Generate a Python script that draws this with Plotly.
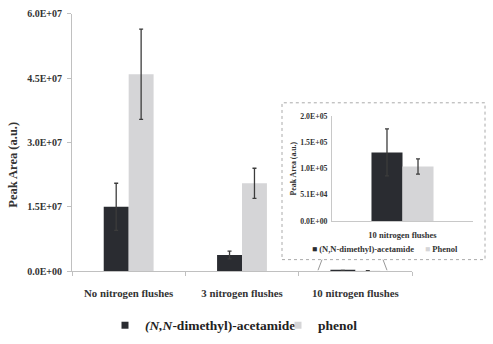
import plotly.graph_objects as go

W, H = 493, 344
categories = ["No nitrogen flushes", "3 nitrogen flushes", "10 nitrogen flushes"]
dma_vals = [1.50e7, 3.8e6, 1.31e5]
dma_err = [5.5e6, 0.9e6, 4.5e4]
phenol_vals = [4.59e7, 2.05e7, 1.04e5]
phenol_err = [1.05e7, 3.5e6, 1.45e4]

main_ticks = [0, 1.5e7, 3.0e7, 4.5e7, 6.0e7]
main_ticktext = ["0.0E+00", "1.5E+07", "3.0E+07", "4.5E+07", "6.0E+07"]
inset_ticks = [0, 5.0e4, 1.0e5, 1.5e5, 2.0e5]
inset_ticktext = ["0.0E+00", "5.1E+04", "1.0E+05", "1.5E+05", "2.0E+05"]

inset_cat = ["10 nitrogen flushes"]
inset_dma = [dma_vals[2]]
inset_dma_err = [dma_err[2]]
inset_phenol = [phenol_vals[2]]
inset_phenol_err = [phenol_err[2]]
inset_legend_labels = ["(N,N-dimethyl)-acetamide", "Phenol"]

DARK = "#2a2c31"
LIGHT = "#d5d5d7"
ERR = "#3c3c3c"
FONT = "Liberation Serif"

def px(x):
    return x / W

def py(y):
    return 1 - y / H

fig = go.Figure()
eb = dict(type="data", color=ERR, thickness=1.3, width=2)
fig.add_trace(go.Bar(x=categories, y=dma_vals, name="dma", showlegend=False,
                     marker_color=DARK, marker_line_width=0,
                     error_y=dict(eb, array=dma_err), xaxis="x", yaxis="y"))
fig.add_trace(go.Bar(x=categories, y=phenol_vals, name="phenol", showlegend=False,
                     marker_color=LIGHT, marker_line_width=0,
                     error_y=dict(eb, array=phenol_err), xaxis="x", yaxis="y"))
fig.add_trace(go.Bar(x=inset_cat, y=inset_dma, name="dma inset", showlegend=False,
                     marker_color=DARK, marker_line_width=0,
                     error_y=dict(eb, array=inset_dma_err), xaxis="x2", yaxis="y2"))
fig.add_trace(go.Bar(x=inset_cat, y=inset_phenol, name="phenol inset", showlegend=False,
                     marker_color=LIGHT, marker_line_width=0,
                     error_y=dict(eb, array=inset_phenol_err), xaxis="x2", yaxis="y2"))

# main legend entries (legend-only markers)
fig.add_trace(go.Scatter(x=[None], y=[None], mode="markers", name="<b><i>(N,N</i>-dimethyl)-acetamide</b>",
                         marker=dict(symbol="square", size=7, color=DARK)))
fig.add_trace(go.Scatter(x=[None], y=[None], mode="markers", name="<b>phenol</b>",
                         marker=dict(symbol="square", size=7, color=LIGHT)))

axfont = dict(family=FONT, size=10, color="#333333", weight="bold")

annotations = []
# inset legend as annotations
inset_leg_x = [310, 423]
inset_leg_col = [DARK, LIGHT]
for lx, lab, col in zip(inset_leg_x, inset_legend_labels, inset_leg_col):
    annotations.append(dict(
        xref="paper", yref="paper", x=px(lx), y=py(251), xanchor="left", yanchor="middle",
        showarrow=False,
        text=f"<span style='color:{col}'>■</span> <b>{lab}</b>",
        font=dict(family=FONT, size=8.5, color="#333333")))
# main y-axis title
annotations.append(dict(
    xref="paper", yref="paper", x=px(13), y=py(164), xanchor="center", yanchor="middle",
    showarrow=False, textangle=-90, text="<b>Peak Area (a.u.)</b>",
    font=dict(family=FONT, size=12.5, color="#333333")))

fig.update_layout(
    width=W, height=H,
    margin=dict(l=0, r=0, t=0, b=0),
    paper_bgcolor="white", plot_bgcolor="rgba(0,0,0,0)",
    barmode="group", bargap=0.56, bargroupgap=0,
    showlegend=True,
    xaxis=dict(domain=[px(72), px(412)], anchor="y", range=[-0.5, 2.5],
               showline=True, linecolor="#c0c0c0", linewidth=1,
               ticks="outside", tickson="boundaries", ticklen=4, tickcolor="#c0c0c0",
               ticklabelstandoff=12,
               tickfont=dict(family=FONT, size=10.8, color="#333333", weight="bold"),
               showgrid=False, zeroline=False, fixedrange=True),
    yaxis=dict(domain=[py(274), py(8)], anchor="x", range=[0, 6.0e7],
               tickvals=main_ticks, ticktext=main_ticktext,
               showline=True, linecolor="#c0c0c0", linewidth=1,
               ticks="outside", ticklen=4, tickcolor="#c0c0c0", ticklabelstandoff=3,
               tickfont=axfont, showgrid=False, zeroline=False),
    xaxis2=dict(domain=[px(332), px(473)], anchor="y2", range=[-0.5, 0.5],
                showline=True, linecolor="#c8c8c8", linewidth=1,
                ticks="", ticklabelstandoff=6,
                tickfont=dict(family=FONT, size=8.5, color="#333333", weight="bold"),
                showgrid=False, zeroline=False),
    yaxis2=dict(domain=[py(222), py(114)], anchor="x2", range=[0, 2.0e5],
                tickvals=inset_ticks, ticktext=inset_ticktext,
                showline=True, linecolor="#c8c8c8", linewidth=1, ticks="", ticklabelstandoff=2,
                tickfont=dict(family=FONT, size=7.8, color="#333333", weight="bold"),
                showgrid=False, zeroline=False,
                title=dict(text="Peak Area (a.u.)", standoff=2,
                           font=dict(family=FONT, size=7.8, color="#333333", weight="bold"))),
    legend=dict(orientation="h", x=px(105), y=py(330), xanchor="left", yanchor="middle",
                font=dict(family=FONT, size=13.5, color="#222222"),
                itemwidth=30, entrywidth=128, bgcolor="rgba(0,0,0,0)", tracegroupgap=0),
    annotations=annotations,
    shapes=[
        dict(type="rect", xref="paper", yref="paper", x0=px(282), x1=px(485), y0=py(262), y1=py(100),
             line=dict(color="#aaaaaa", width=1, dash="dot"), fillcolor="white", layer="below"),
        dict(type="line", xref="paper", yref="paper", x0=px(322), y0=py(262), x1=px(318), y1=py(273),
             line=dict(color="#999999", width=1)),
        dict(type="line", xref="paper", yref="paper", x0=px(383), y0=py(262), x1=px(387), y1=py(273),
             line=dict(color="#999999", width=1)),
    ],
)

fig.write_html("out.html")
